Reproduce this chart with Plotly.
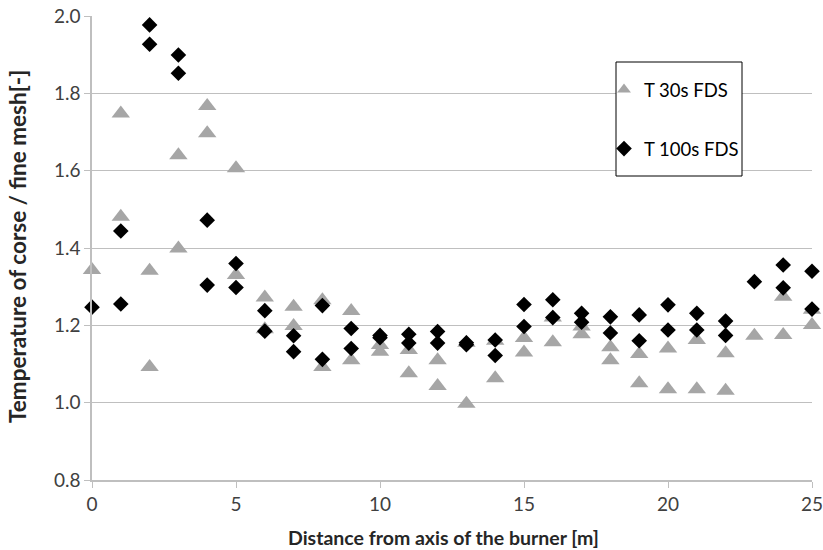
import plotly.graph_objects as go

# T 30s FDS (triangles)
x30 = [0, 1, 1, 2, 2, 3, 3, 4, 4, 5, 5, 6, 6, 7, 7, 8, 8, 9, 9, 10, 10, 11, 11, 12, 12,
       13, 13, 14, 14, 15, 15, 16, 16, 17, 17, 18, 18, 19, 19, 20, 20, 21, 21, 22, 22,
       23, 24, 24, 25, 25]
y30 = [1.343, 1.748, 1.481, 1.341, 1.092, 1.640, 1.399, 1.767, 1.697, 1.606, 1.330,
       1.272, 1.190, 1.248, 1.198, 1.265, 1.092, 1.237, 1.110, 1.149, 1.132, 1.136, 1.076,
       1.110, 1.043, 1.155, 0.997, 1.160, 1.063, 1.167, 1.130, 1.220, 1.156, 1.197, 1.177,
       1.143, 1.110, 1.126, 1.050, 1.140, 1.035, 1.162, 1.035, 1.128, 1.031,
       1.173, 1.274, 1.175, 1.240, 1.201]

# T 100s FDS (diamonds)
x100 = [0, 1, 1, 2, 2, 3, 3, 4, 4, 5, 5, 6, 6, 7, 7, 8, 8, 9, 9, 10, 10, 11, 11, 12, 12,
        13, 13, 14, 14, 15, 15, 16, 16, 17, 17, 18, 18, 19, 19, 20, 20, 21, 21, 22, 22,
        23, 24, 24, 25, 25]
y100 = [1.247, 1.444, 1.255, 1.977, 1.927, 1.899, 1.852, 1.472, 1.304, 1.360, 1.298,
        1.238, 1.185, 1.173, 1.132, 1.251, 1.112, 1.192, 1.140, 1.174, 1.168, 1.177, 1.154,
        1.184, 1.154, 1.155, 1.150, 1.162, 1.122, 1.254, 1.197, 1.266, 1.220, 1.231, 1.208,
        1.222, 1.180, 1.227, 1.160, 1.253, 1.188, 1.231, 1.188, 1.211, 1.174,
        1.313, 1.356, 1.297, 1.340, 1.242]

x_ticks = [0, 5, 10, 15, 20, 25]
y_ticks = [0.8, 1.0, 1.2, 1.4, 1.6, 1.8, 2.0]

x_title = "Distance from axis of the burner [m]"
y_title = "Temperature of corse / fine mesh[-]"

FONT = "Lato, 'Open Sans', sans-serif"

W, H = 823, 550
L, T = 92, 16
PW, PH = 720, 464


def px(xp):   # page x -> paper
    return (xp - L) / PW


def py(yp):   # page y -> paper
    return (T + PH - yp) / PH


fig = go.Figure()
fig.add_trace(go.Scatter(
    x=x30, y=y30, mode="markers", name="T 30s FDS", legendgroup="a",
    marker=dict(symbol="triangle-up", size=16, color="#a6a6a6"),
    cliponaxis=False,
))
fig.add_trace(go.Scatter(
    x=x100, y=y100, mode="markers", name="T 100s FDS", legendgroup="b",
    marker=dict(symbol="diamond", size=12, color="#000000"),
    cliponaxis=False,
))

# legend frame
fig.add_shape(type="rect", xref="paper", yref="paper",
              x0=px(616), x1=px(742), y0=py(176), y1=py(62),
              line=dict(color="#000000", width=1), fillcolor="white", layer="above")

fig.add_annotation(text="<b>%s</b>" % x_title, xref="paper", yref="paper",
                   x=px(443), y=py(537),
                   xanchor="center", yanchor="middle", showarrow=False,
                   font=dict(family=FONT, size=19.5, color="#262626"))
fig.add_annotation(text="<b>%s</b>" % y_title, xref="paper", yref="paper",
                   x=px(18), y=py(247), textangle=-90,
                   xanchor="center", yanchor="middle", showarrow=False,
                   font=dict(family=FONT, size=22.5, color="#262626"))

fig.update_layout(
    width=W, height=H,
    margin=dict(l=L, r=W - L - PW, t=T, b=H - T - PH, autoexpand=False),
    paper_bgcolor="white", plot_bgcolor="white",
    font=dict(family=FONT, size=18, color="#404040"),
    showlegend=True,
    legend=dict(
        x=px(604), y=py(119.5), xanchor="left", yanchor="middle",
        borderwidth=0, bgcolor="rgba(0,0,0,0)",
        font=dict(family=FONT, size=18.5, color="#000000"),
        traceorder="grouped", tracegroupgap=32,
        itemsizing="constant",
    ),
    xaxis=dict(
        range=[0, 25], tickvals=x_ticks, showgrid=False, zeroline=False,
        showline=True, linecolor="#bfbfbf", linewidth=1.5,
        ticks="outside", ticklen=6, tickcolor="#bfbfbf",
        tickfont=dict(size=19, color="#404040"), automargin=False,
        ticklabeloverflow="allow",
    ),
    yaxis=dict(
        range=[0.8, 2.0], tickvals=y_ticks, tickformat=".1f",
        showgrid=True, gridcolor="#bfbfbf", gridwidth=1.2, zeroline=False,
        showline=True, linecolor="#bfbfbf", linewidth=1.5,
        ticks="outside", ticklen=6, tickcolor="#bfbfbf",
        tickfont=dict(size=19, color="#404040"), automargin=False,
        ticklabeloverflow="allow",
    ),
)

# remove the browser's default 8px body margin so the figure fills the window
fig.write_html("out.html", config={"displayModeBar": False},
               post_script="document.body.style.margin='0';")
